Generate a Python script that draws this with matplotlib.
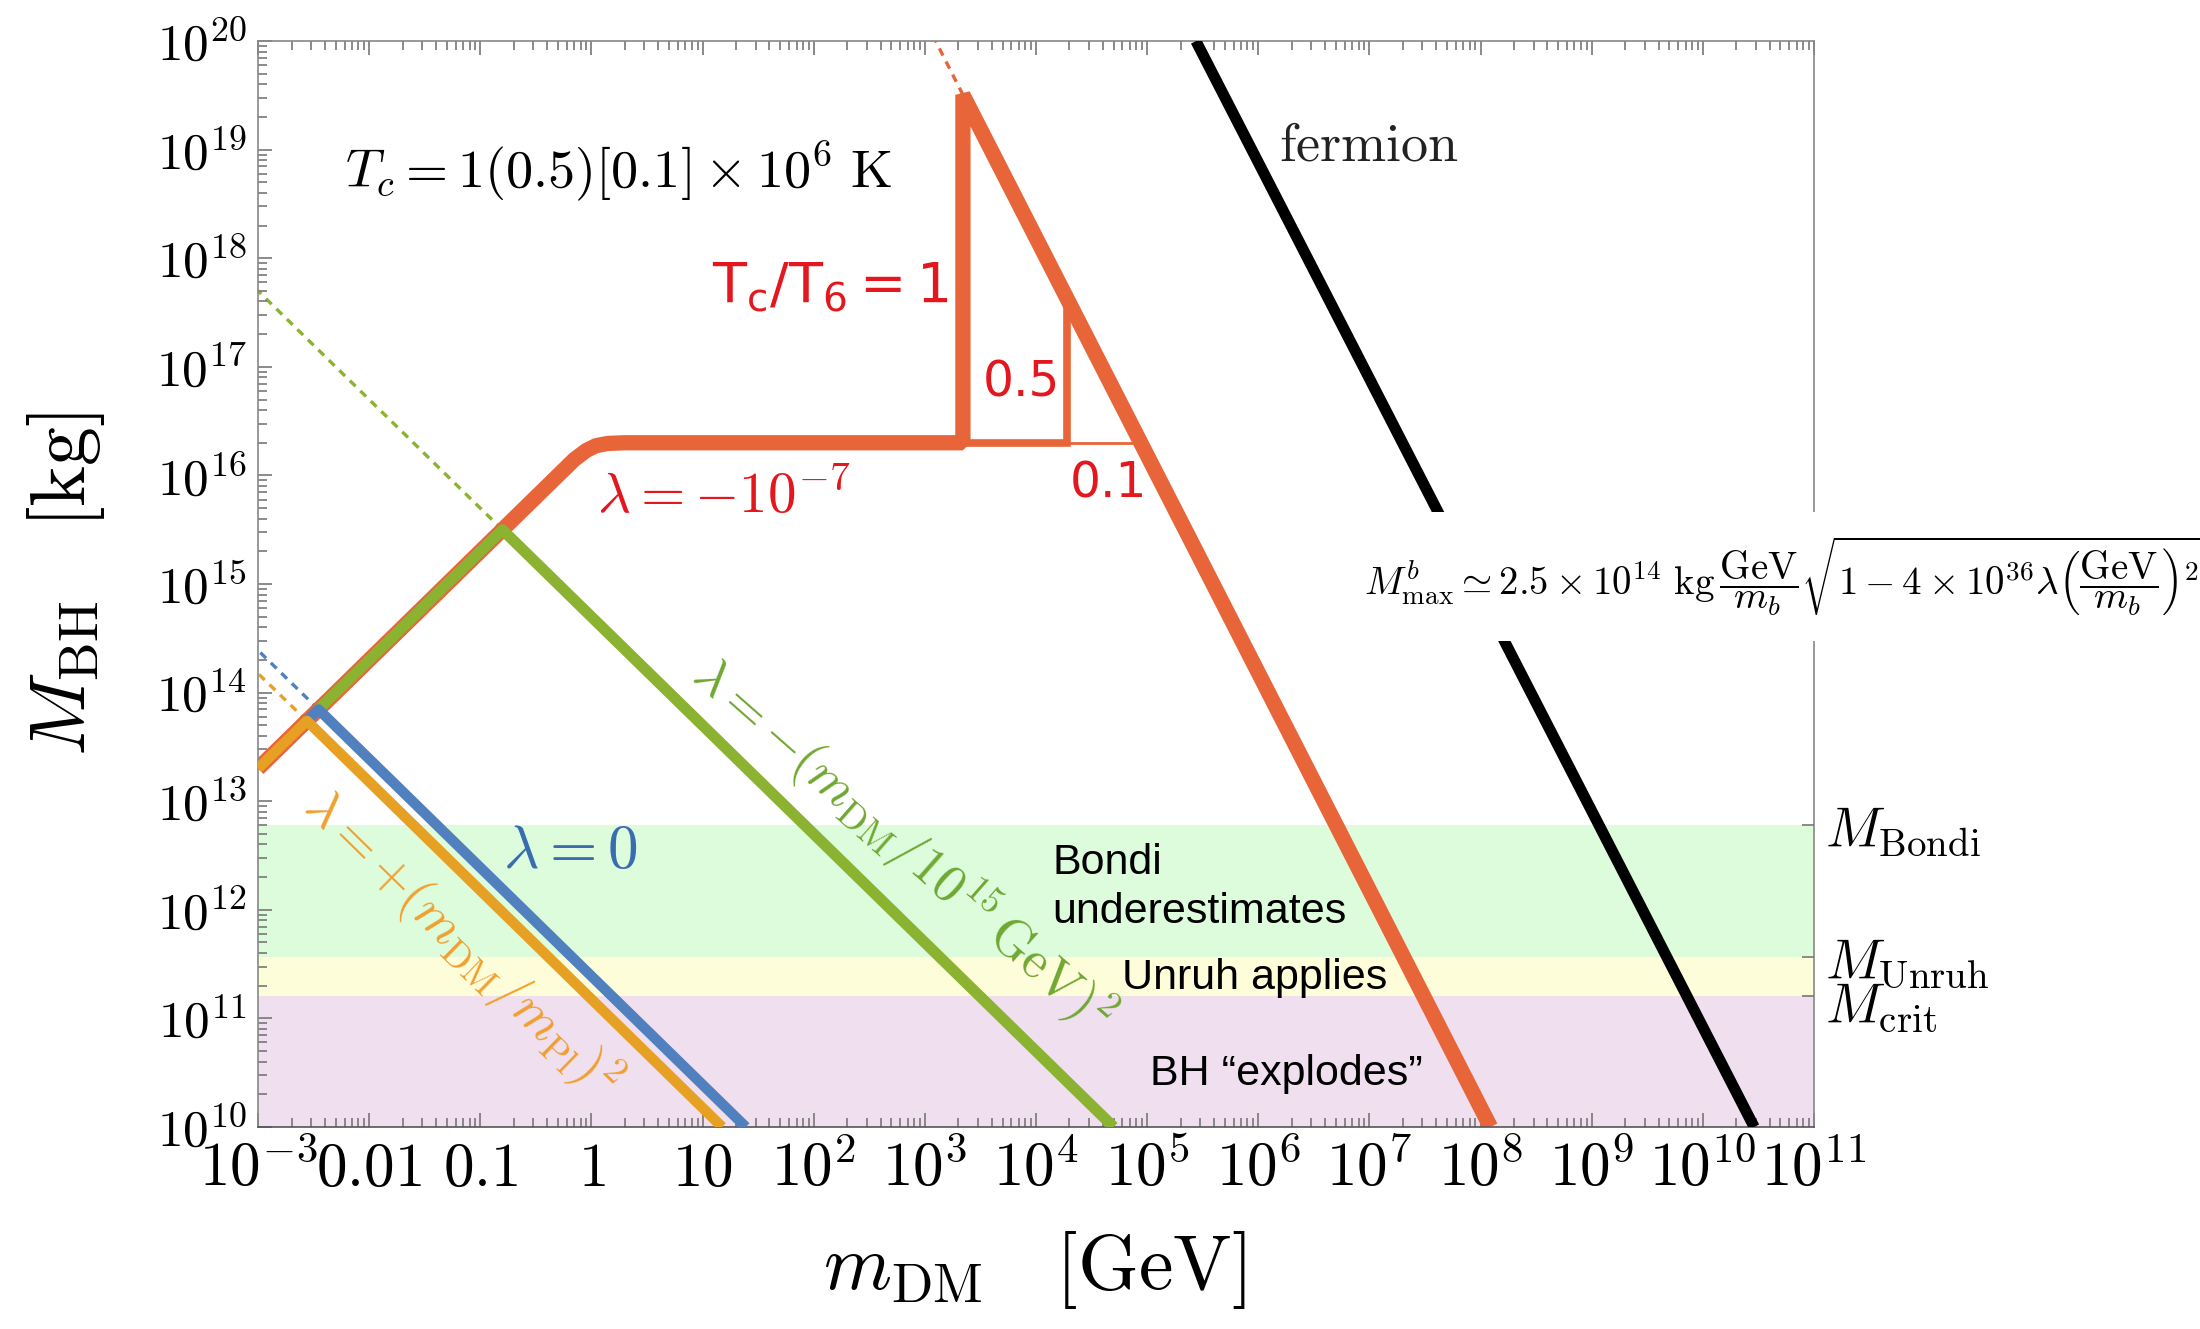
import numpy as np
import matplotlib
matplotlib.use('Agg')
import matplotlib.pyplot as plt
import matplotlib.transforms as mtransforms
from matplotlib.patches import Rectangle
from matplotlib.ticker import LogLocator, NullFormatter, NullLocator

plt.rcParams['mathtext.fontset'] = 'cm'
plt.rcParams['font.family'] = ['DejaVu Serif']

# ---- data (GeV, kg) ----
# T_c/T_6 = 1 curve, lambda = -1e-7
red_m = [1e-3, 0.158, 0.45, 0.7, 0.9, 1.1, 1.4, 2.0, 2.2e3, 2.2e3, 1.23e8]
red_M = [2e13, 3.16e15, 9e15, 1.4e16, 1.7e16, 1.88e16, 1.97e16, 2e16, 2e16, 3.2e19, 1e10]
red_half_m = [2.2e3, 1.9e4, 1.9e4]
red_half_M = [2e16, 2e16, 4.3e17]
red_tenth_m = [1.9e4, 8.8e4]
red_tenth_M = [2e16, 2e16]
red_dot_m = [2.2e3, 1.25e3]
red_dot_M = [3.2e19, 1e20]

# lambda = -(m/1e15 GeV)^2
green_m = [3.5e-3, 0.158, 5.0e4]
green_M = [7e13, 3.16e15, 1e10]
green_dot_m = [0.158, 1e-3]
green_dot_M = [3.16e15, 5e17]

# lambda = 0
blue_m = [2.75e-3, 3.5e-3, 24.5]
blue_M = [5.5e13, 7e13, 1e10]
blue_dot_m = [3.5e-3, 1e-3]
blue_dot_M = [7e13, 2.45e14]

# lambda = +(m/m_Pl)^2
amber_m = [1e-3, 2.75e-3, 15.0]
amber_M = [2e13, 5.5e13, 1e10]
amber_dot_m = [2.75e-3, 1e-3]
amber_dot_M = [5.5e13, 1.5e14]

# fermion bound
fermion_m = [2.75e5, 2.9e10]
fermion_M = [1e20, 1e10]

# horizontal bands
M_bondi = 6e12
M_unruh = 3.7e11
M_crit = 1.6e11
M_bottom = 1e10

xticks = [10.0 ** k for k in range(-3, 12)]
xtick_labels = [r'$10^{-3}$', r'$0.01$', r'$0.1$', r'$1$', r'$10$'] + \
               [r'$10^{%d}$' % k for k in range(2, 12)]
yticks = [10.0 ** k for k in range(10, 21)]
ytick_labels = [r'$10^{%d}$' % k for k in range(10, 21)]

c_red = '#E8653A'
c_green = '#8BB231'
c_blue = '#5080BE'
c_amber = '#E6A124'

fig = plt.figure(figsize=(22, 13.29), dpi=100)
ax = fig.add_axes([0.1173, 0.152, 0.7072, 0.8171])
ax.set_xscale('log')
ax.set_yscale('log')
ax.set_xlim(1e-3, 1e11)
ax.set_ylim(1e10, 1e20)

ax.axhspan(M_unruh, M_bondi, color='#DDFCDC', lw=0, zorder=0.5)
ax.axhspan(M_crit, M_unruh, color='#FEFDD9', lw=0, zorder=0.5)
ax.axhspan(M_bottom, M_crit, color='#EFDFEF', lw=0, zorder=0.5)

dot = dict(ls=(0, (2.4, 2.0)), lw=2.4, zorder=1.5)
ax.plot(red_dot_m, red_dot_M, color=c_red, **dot)
ax.plot(green_dot_m, green_dot_M, color=c_green, **dot)
ax.plot(blue_dot_m, blue_dot_M, color=c_blue, **dot)
ax.plot(amber_dot_m, amber_dot_M, color=c_amber, **dot)

ax.plot(red_m, red_M, color=c_red, lw=11, solid_joinstyle='bevel',
        solid_capstyle='butt', zorder=2)
ax.plot(red_half_m, red_half_M, color=c_red, lw=5.5, solid_joinstyle='miter',
        solid_capstyle='butt', zorder=2)
ax.plot(red_tenth_m, red_tenth_M, color=c_red, lw=2, zorder=2)
ax.plot(green_m, green_M, color=c_green, lw=8, solid_capstyle='butt', zorder=3)
ax.plot(blue_m, blue_M, color=c_blue, lw=7.5, solid_capstyle='butt', zorder=4)
ax.plot(amber_m, amber_M, color=c_amber, lw=7.5, solid_capstyle='butt', zorder=5)
ax.plot(fermion_m, fermion_M, color='black', lw=8, solid_capstyle='butt', zorder=3)

# ticks
ax.set_xticks(xticks, xtick_labels)
ax.set_yticks(yticks, ytick_labels)
ax.xaxis.set_minor_locator(LogLocator(base=10, subs=np.arange(2, 10), numticks=100))
ax.yaxis.set_minor_locator(LogLocator(base=10, subs=np.arange(2, 10), numticks=100))
ax.xaxis.set_minor_formatter(NullFormatter())
ax.yaxis.set_minor_formatter(NullFormatter())
ax.tick_params(which='both', direction='in', top=True, right=False,
               color='#777777', width=1.2)
ax.tick_params(which='major', length=10)
ax.tick_params(which='minor', length=6.5)
ax.tick_params(axis='x', which='major', labelsize=44, pad=9)
ax.tick_params(axis='y', which='major', labelsize=37, pad=8)
for s in ax.spines.values():
    s.set_color('#888888')
    s.set_linewidth(1.2)
ax.spines['bottom'].set_color('#555555')

ax2 = ax.twinx()
ax2.set_yscale('log')
ax2.set_ylim(ax.get_ylim())
ax2.set_yticks([M_bondi, M_unruh, M_crit], ['', '', ''])
ax2.yaxis.set_minor_locator(NullLocator())
ax2.tick_params(axis='y', direction='in', length=9, color='#777777', width=1.2)
for s in ax2.spines.values():
    s.set_visible(False)

trans_r = mtransforms.blended_transform_factory(ax.transAxes, ax.transData)
ax.text(1.007, M_bondi, r'$M_{\rm Bondi}$', transform=trans_r, fontsize=40,
        ha='left', va='center_baseline')
ax.text(1.007, M_unruh, r'$M_{\rm Unruh}$', transform=trans_r, fontsize=40,
        ha='left', va='center_baseline')
ax.text(1.007, M_crit * 0.9, r'$M_{\rm crit}$', transform=trans_r, fontsize=40,
        ha='left', va='center_baseline')

# labels in the plot
ax.text(6e-3, 6.3e18, r'$T_c = 1(0.5)[0.1]\times 10^6\ \mathrm{K}$', fontsize=39,
        ha='left', va='center', zorder=6)
ax.text(1.55e6, 1.1e19, r'$\mathrm{fermion}$', fontsize=39, ha='left', va='center',
        color='#222222', zorder=6)
ax.text(1.65e3, 5.5e17, r'$\mathrm{T_c/T_6=1}$', math_fontfamily='dejavusans',
        fontsize=40, color='#E3171E', ha='right', va='center', zorder=6)
ax.text(3.3e3, 7.2e16, '0.5', family='DejaVu Sans', fontsize=35, color='#E3171E',
        ha='left', va='center', zorder=6)
ax.text(2e4, 8.5e15, '0.1', family='DejaVu Sans', fontsize=35, color='#E3171E',
        ha='left', va='center', zorder=6)
ax.text(1.12, 6.3e15, r'$\lambda = -10^{-7}$', fontsize=41, color='#E3171E',
        ha='left', va='center', zorder=6)
ax.text(0.16, 3.5e12, r'$\lambda = 0$', fontsize=44, color='#3A6DB0',
        ha='left', va='center', zorder=6)

p1 = ax.transData.transform((1.0, 1e12))
p2 = ax.transData.transform((10.0, 1e11))
ang = np.degrees(np.arctan2(p2[1] - p1[1], p2[0] - p1[0]))
ax.text(630, 4e12, r'$\lambda = -(m_{\rm DM}/10^{15}\,{\rm GeV})^2$', fontsize=38,
        color='#6FA832', rotation=ang + 3, rotation_mode='anchor', ha='center',
        va='center', zorder=6)
ax.text(0.068, 4.9e11, r'$\lambda = +(m_{\rm DM}/m_{\rm Pl})^2$', fontsize=38,
        color='#F0A030', rotation=ang, rotation_mode='anchor', ha='center',
        va='center', zorder=6)

sans = ['Liberation Sans', 'DejaVu Sans']
ax.text(1.4e4, 1.6e12, 'Bondi\nunderestimates', family=sans, fontsize=31,
        ha='left', va='center', linespacing=1.3, zorder=6)
ax.text(6e4, 2.35e11, 'Unruh applies', family=sans, fontsize=31,
        ha='left', va='center', zorder=6)
ax.text(1.07e5, 3.1e10, 'BH \u201cexplodes\u201d', family=sans, fontsize=31,
        ha='left', va='center', zorder=6)

# white box behind the formula
fig.add_artist(Rectangle((0.615, 0.5177), 0.385, 0.097, transform=fig.transFigure,
                         facecolor='white', edgecolor='none', zorder=9))
formula = (r'$M^b_{\rm max}\simeq 2.5\times 10^{14}\ \mathrm{kg}\,'
           r'\dfrac{\mathrm{GeV}}{m_b}'
           r'\sqrt{1-4\times 10^{36}\lambda\left(\dfrac{\mathrm{GeV}}{m_b}\right)^2}$')
fig.text(0.620, 0.5666, formula, fontsize=28, ha='left', va='center', zorder=10)

fig.text(0.03, 0.5605, r'$M_{\rm BH}\quad[{\rm kg}]$', fontsize=56, rotation=90,
         ha='center', va='center')
fig.text(0.470, 0.0444, r'$m_{\rm DM}\quad[{\rm GeV}]$', fontsize=56,
         ha='center', va='center')

fig.savefig('out.png', dpi=100)
